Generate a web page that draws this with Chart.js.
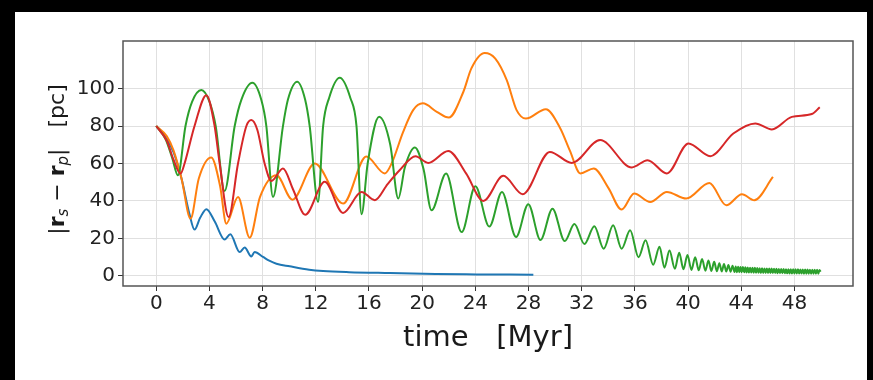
<!DOCTYPE html>
<html>
<head>
<meta charset="utf-8">
<script src="https://cdn.jsdelivr.net/npm/chart.js@4.4.1/dist/chart.umd.min.js"></script>
<style>
  html, body { margin: 0; padding: 0; background: #000; }
  #wrap { position: relative; width: 873px; height: 380px; }
</style>
</head>
<body>
<div id="wrap"><canvas id="sepChart" width="873" height="380"></canvas></div>
<script>
// separation |r_s - r_p| [pc] against time [Myr], one run per colour
const timeTicks = [0, 4, 8, 12, 16, 20, 24, 28, 32, 36, 40, 44, 48];
const sepTicks = [0, 20, 40, 60, 80, 100];

const blueT = [0, 0.8, 1.3, 1.9, 2.5, 2.88, 3.3, 3.77, 4.4, 5.14, 5.57, 6.27, 6.65, 7.15, 7.4, 8.03, 8.5, 9.04, 10.04, 11.5, 12.55, 14.5, 17.57, 21, 24.1, 28.36];
const blueR = [80, 73, 66, 52, 33, 24.7, 31, 35.6, 29, 19.4, 22.2, 12.7, 15.1, 10.4, 12.7, 10.1, 8.1, 6.5, 5.1, 3.3, 2.6, 2.0, 1.5, 1.0, 0.8, 0.6];

const orangeT = [0, 0.8, 1.3, 1.9, 2.58, 3.2, 4.14, 4.8, 5.27, 6.15, 7.03, 7.8, 9.04, 10.24, 11.92, 14.05, 15.8, 17.19, 17.7, 18.57, 19.32, 20.05, 21.1, 22.0, 23.1, 23.7, 24.7, 25.5, 26.36, 27.1, 27.8, 29.3, 30.37, 31.1, 31.9, 32.9, 34.0, 35.0, 35.94, 37.15, 38.4, 39.86, 41.6, 42.87, 44.05, 44.98, 46.38];
const orangeR = [80, 74.5, 67, 52, 30.6, 52, 63.2, 48, 27.9, 42.1, 20.4, 42, 53.7, 40.7, 60, 38.6, 63.7, 54.7, 60, 76.9, 88.5, 92.1, 87.6, 84.5, 98.3, 110.8, 119, 116, 104.5, 88.5, 84, 89, 79, 67, 54.7, 57.3, 47, 35.4, 44, 39.5, 44.8, 41.3, 49.6, 37.7, 43.6, 40.4, 52.8];

const greenT = [0, 0.7, 1.2, 1.63, 2.2, 2.7, 3.39, 4.0, 4.47, 5.14, 5.9, 6.4, 7.23, 7.9, 8.28, 8.78, 9.53, 9.9, 10.6, 11.2, 11.54, 12.17, 12.55, 13.0, 13.8, 14.6, 15.06, 15.44, 15.9, 16.76, 17.6, 18.2, 18.7, 19.45, 20.1, 20.7, 21.8, 22.97, 24.0, 25.05, 26.0, 27.06, 27.98, 28.9, 29.8, 30.72, 31.45, 32.2, 32.95, 33.65, 34.36, 35.0, 35.64, 36.27, 36.8, 37.37, 37.85, 38.22, 38.6, 39.0,
  39.33, 39.65, 39.95, 40.25, 40.53, 40.8, 41.05, 41.3, 41.53, 41.75, 41.96, 42.16, 42.35, 42.53, 42.7, 42.87, 43.03, 43.19, 43.34, 43.49,
  43.58, 43.67, 43.76, 43.85, 43.94, 44.03, 44.12, 44.21, 44.30, 44.39, 44.48, 44.57, 44.66, 44.75, 44.84, 44.93, 45.02, 45.11, 45.20, 45.29,
  45.38, 45.47, 45.56, 45.65, 45.74, 45.83, 45.92, 46.01, 46.10, 46.19, 46.28, 46.37, 46.46, 46.55, 46.64, 46.73, 46.82, 46.91, 47.00, 47.09,
  47.18, 47.27, 47.36, 47.45, 47.54, 47.63, 47.72, 47.81, 47.90, 47.99, 48.08, 48.17, 48.26, 48.35, 48.44, 48.53, 48.62, 48.71, 48.80, 48.89,
  48.98, 49.07, 49.16, 49.25, 49.34, 49.43, 49.52, 49.61, 49.70, 49.79, 49.88, 49.96];
const greenR = [80, 73, 63, 53.7, 80, 93, 99.2, 93, 80, 45.3, 80, 94, 103.1, 94, 80, 42.1, 80, 94, 103.6, 94, 80, 39.5, 80, 95, 105.8, 95, 80, 32.9, 60, 84.9, 70, 41.3, 58, 68.5, 57, 35, 54.6, 23.4, 47.9, 26.3, 44.8, 20.8, 38.2, 19.2, 35.9, 18.6, 27.7, 17, 26.5, 14.5, 27, 14.5, 24.3, 10, 19, 6, 15.6, 4.4, 13.6, 3.8,
  12.4, 3.5, 11.2, 3.2, 10, 3, 9, 2.8, 8.2, 2.6, 7.5, 2.5, 6.8, 2.4, 6.3, 2.3, 5.8, 2.2, 5.4, 2.1,
  5.0, 2.0, 4.9, 2.0, 4.8, 1.9, 4.7, 1.9, 4.6, 1.8, 4.5, 1.8, 4.4, 1.8, 4.3, 1.7, 4.3, 1.7, 4.2, 1.7,
  4.1, 1.6, 4.1, 1.6, 4.0, 1.6, 4.0, 1.5, 3.9, 1.5, 3.9, 1.5, 3.8, 1.5, 3.8, 1.4, 3.7, 1.4, 3.7, 1.4,
  3.7, 1.4, 3.6, 1.4, 3.6, 1.3, 3.6, 1.3, 3.5, 1.3, 3.5, 1.3, 3.5, 1.3, 3.4, 1.3, 3.4, 1.2, 3.4, 1.2,
  3.4, 1.2, 3.3, 1.2, 3.3, 1.2, 3.3, 1.2, 3.3, 1.2, 3.2, 2.2];

const redT = [0, 0.8, 1.3, 1.83, 2.13, 2.88, 3.77, 4.39, 4.77, 5.44, 6.15, 6.78, 7.15, 7.6, 8.15, 8.66, 9.53, 10.3, 11.2, 12.67, 14.05, 15.44, 16.44, 17.4, 18.3, 19.5, 20.45, 21.96, 23.3, 24.6, 26.1, 27.56, 29.6, 31.25, 33.38, 35.77, 36.95, 38.4, 40.03, 41.66, 43.4, 45.05, 46.3, 47.8, 49.3, 49.9];
const redR = [80, 72, 62, 54.6, 60, 80, 96.5, 80, 60, 31.4, 60, 80, 83.2, 78, 60, 50.7, 57.3, 46, 32.6, 50.2, 33.6, 44.8, 40.4, 49, 56.4, 63.9, 60.3, 66.7, 54.7, 40, 53.4, 43.6, 66.2, 60.3, 72.5, 57.9, 61.8, 54.7, 70.7, 63.9, 76, 81.4, 78.2, 84.9, 86.4, 90];

const toPoints = (ts, rs) => ts.map((t, i) => ({ x: t, y: rs[i] }));

function lineSet(ts, rs, color, order) {
    return {
        data: toPoints(ts, rs),
        borderColor: color,
        borderWidth: 2,
        pointRadius: 0,
        cubicInterpolationMode: 'monotone',
        fill: false,
        order: order
    };
}

// white page, frame round the plot area and the two axis titles
const framePlugin = {
    id: 'frame',
    beforeDraw(chart) {
        const ctx = chart.ctx;
        ctx.save();
        ctx.fillStyle = '#000';
        ctx.fillRect(0, 0, chart.width, chart.height);
        ctx.fillStyle = '#fff';
        ctx.fillRect(15, 12, 852, 368);
        ctx.restore();
    },
    afterDraw(chart) {
        const ctx = chart.ctx;
        const a = chart.chartArea;
        ctx.save();
        ctx.strokeStyle = '#555';
        ctx.lineWidth = 1.5;
        ctx.strokeRect(a.left, a.top, a.right - a.left, a.bottom - a.top);

        // x title
        ctx.fillStyle = '#1a1a1a';
        ctx.font = '29px "DejaVu Sans"';
        ctx.textAlign = 'center';
        ctx.textBaseline = 'alphabetic';
        ctx.fillText('time   [Myr]', (a.left + a.right) / 2, 346);

        // y title, rotated, with bold r and subscripts
        const size = 22;
        const sub = Math.round(size * 0.7);
        const parts = [
            { t: '|', f: `${size}px "DejaVu Sans"`, dy: 0 },
            { t: 'r', f: `bold ${size}px "DejaVu Sans"`, dy: 0 },
            { t: 's', f: `italic ${sub}px "DejaVu Sans"`, dy: 4 },
            { t: ' \u2212 ', f: `${size}px "DejaVu Sans"`, dy: 0 },
            { t: 'r', f: `bold ${size}px "DejaVu Sans"`, dy: 0 },
            { t: 'p', f: `italic ${sub}px "DejaVu Sans"`, dy: 4 },
            { t: '|', f: `${size}px "DejaVu Sans"`, dy: 0 },
            { t: '   [pc]', f: `${size}px "DejaVu Sans"`, dy: 0 }
        ];
        let total = 0;
        parts.forEach(p => { ctx.font = p.f; p.w = ctx.measureText(p.t).width; total += p.w; });
        ctx.translate(64, 159.5);
        ctx.rotate(-Math.PI / 2);
        ctx.textAlign = 'left';
        let x = -total / 2;
        parts.forEach(p => {
            ctx.font = p.f;
            ctx.fillText(p.t, x, p.dy);
            x += p.w;
        });
        ctx.restore();
    }
};

new Chart(document.getElementById('sepChart'), {
    type: 'line',
    data: {
        datasets: [
            lineSet(blueT, blueR, '#1f77b4', 3),
            lineSet(orangeT, orangeR, '#ff7f0e', 2),
            lineSet(greenT, greenR, '#2ca02c', 1),
            lineSet(redT, redR, '#d62728', 0)
        ]
    },
    options: {
        responsive: false,
        animation: false,
        devicePixelRatio: 1,
        layout: { padding: { top: 41, right: 20, left: 0, bottom: 0 } },
        plugins: { legend: { display: false }, tooltip: { enabled: false } },
        scales: {
            x: {
                type: 'linear',
                min: -2.5,
                max: 52.4,
                afterBuildTicks: s => { s.ticks = timeTicks.map(v => ({ value: v })); },
                afterFit: s => { s.height = 94; },
                grid: { color: '#e0e0e0', lineWidth: 1, tickColor: '#333', tickLength: 5, drawTicks: true },
                border: { display: false },
                ticks: { autoSkip: false, maxRotation: 0, padding: 1, color: '#222', font: { family: 'DejaVu Sans', size: 20 } }
            },
            y: {
                type: 'linear',
                min: -5.4,
                max: 125.4,
                afterBuildTicks: s => { s.ticks = sepTicks.map(v => ({ value: v })); },
                afterFit: s => { s.width = 123; },
                grid: { color: '#e0e0e0', lineWidth: 1, tickColor: '#333', tickLength: 5, drawTicks: true },
                border: { display: false },
                ticks: { padding: 3, color: '#222', font: { family: 'DejaVu Sans', size: 20 } }
            }
        }
    },
    plugins: [framePlugin]
});
</script>
</body>
</html>
